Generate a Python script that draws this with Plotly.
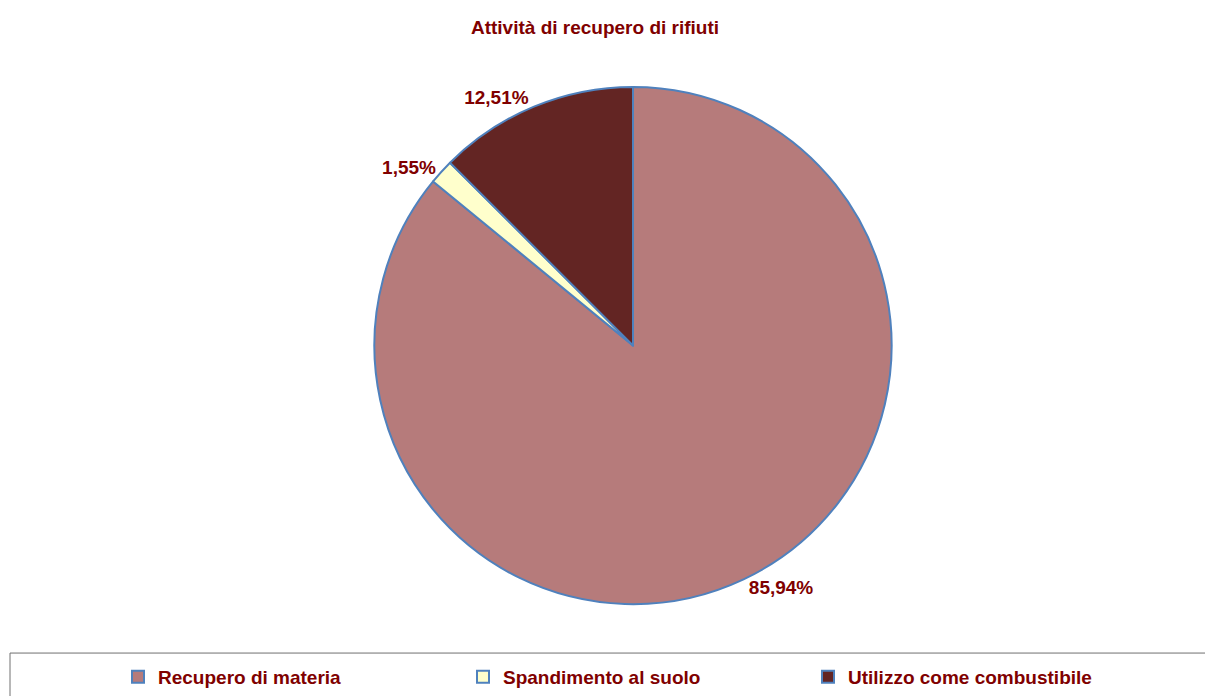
import plotly.graph_objects as go

categories = ["Recupero di materia", "Spandimento al suolo", "Utilizzo come combustibile"]
values = [85.94, 1.55, 12.51]
colors = ["#B67B7B", "#FFFFCC", "#632523"]

OFF = 8  # default page body margin
W, H = 1213 - OFF, 696 - OFF
labels_text = [f"{v:.2f}".replace(".", ",") + "%" for v in values]

cx, cy, r = 633 - OFF, 346 - OFF, 259
FONT = "Liberation Sans, Arial"
fig = go.Figure(go.Pie(
    labels=categories,
    values=values,
    text=labels_text,
    textinfo="text",
    textposition="outside",
    sort=False,
    direction="clockwise",
    rotation=0,
    marker=dict(colors=colors, line=dict(color="#4F81BD", width=2)),
    outsidetextfont=dict(family=FONT, size=19, color="#800000", weight="bold"),
    textfont=dict(family=FONT, size=19, color="#800000", weight="bold"),
    domain=dict(x=[(cx - r) / W, (cx + r) / W], y=[(H - cy - r) / H, (H - cy + r) / H]),
    automargin=False,
    showlegend=True,
))

fig.update_layout(
    width=W, height=H,
    margin=dict(l=0, r=0, t=0, b=0),
    paper_bgcolor="white",
    plot_bgcolor="white",
    title=dict(text="<b>Attività di recupero di rifiuti</b>", x=(595 - OFF) / W, xanchor="center",
               y=1 - (27 - OFF) / H, yanchor="middle",
               font=dict(family=FONT, size=19, color="#800000")),
    legend=dict(orientation="h", x=(118 - OFF) / W, xanchor="left", y=(H - (678 - OFF)) / H,
                yanchor="middle",
                font=dict(family=FONT, size=19, color="#800000", weight="bold"),
                entrywidth=300, entrywidthmode="pixels", itemwidth=30,
                bgcolor="rgba(0,0,0,0)"),
    shapes=[dict(type="rect", xref="paper", yref="paper", x0=(10 - OFF) / W, x1=1.02,
                 y0=-0.05, y1=(H - (654 - OFF)) / H, line=dict(color="#707070", width=1),
                 fillcolor="rgba(0,0,0,0)", layer="below")],
)

fig.write_html("out.html")
